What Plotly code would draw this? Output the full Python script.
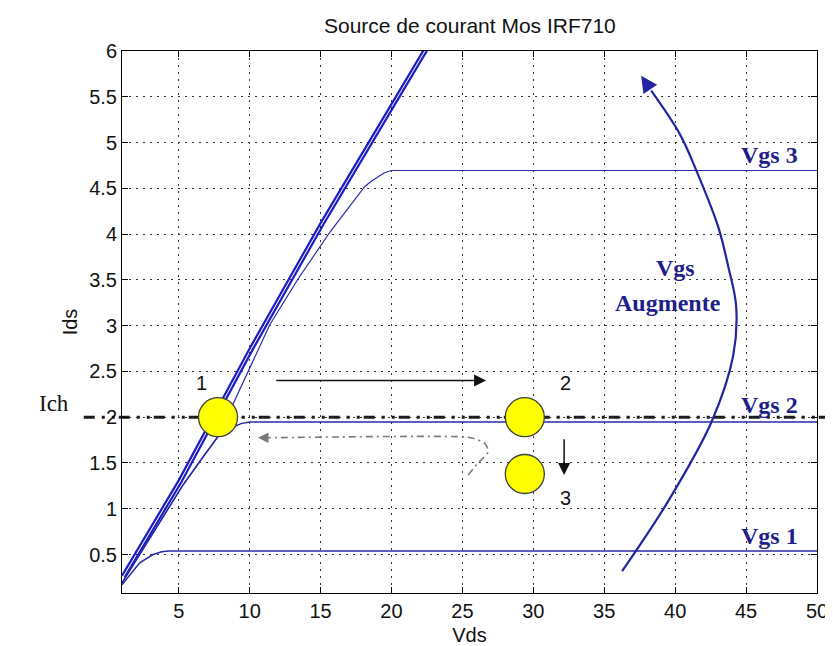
import plotly.graph_objects as go

# ---------------- data ----------------
# ohmic-region lines (double thick line)
ohm_x = [1.0, 5.0, 10.0, 15.0, 20.0, 22.3, 23.0]
ohm_y = [0.27, 1.31, 2.75, 4.12, 5.42, 6.02, 6.2]
ohm2_x = [1.18, 5.18, 10.18, 15.18, 20.18, 22.48, 23.18]
ohm2_y = [0.25, 1.29, 2.73, 4.10, 5.40, 6.00, 6.18]

# Vgs 3 characteristic
vgs3_x = [1.0, 5.30, 6.83, 7.77, 11.42, 13.41, 15.65, 18.12, 18.6, 19.05, 19.5, 19.99, 50.0]
vgs3_y = [0.19, 1.26, 1.59, 1.79, 3.01, 3.51, 4.02, 4.52, 4.58, 4.63, 4.67, 4.695, 4.695]

# Vgs 2 characteristic
vgs2_x = [1.0, 5.30, 6.83, 7.77, 8.6, 9.4, 10.0, 50.0]
vgs2_y = [0.19, 1.26, 1.59, 1.79, 1.88, 1.93, 1.948, 1.948]

# Vgs 1 characteristic
vgs1_x = [1.0, 1.5, 2.25, 3.19, 3.8, 4.3, 50.0]
vgs1_y = [0.17, 0.27, 0.41, 0.50, 0.53, 0.54, 0.54]

# load current level
ich_level = 2.0

# operating points 1, 2, 3
pt_x = [7.77, 29.4, 29.4]
pt_y = [2.0, 2.0, 1.38]
pt_labels = ["1", "2", "3"]
pt_label_x = [6.6, 32.3, 32.3]
pt_label_y = [2.37, 2.37, 1.12]

# big curved "Vgs augmente" arrow
vgsarrow_x = [36.26, 39.5, 42.56, 44.09, 44.3, 43.74, 43.03, 41.48, 40.33, 38.31]
vgsarrow_y = [0.319, 1.081, 1.948, 2.671, 3.213, 3.647, 4.081, 4.699, 5.092, 5.566]
vgsarrow_tip = (37.6, 5.73)

# dash-dot return path (3 -> 1)
ret_x = [25.4, 26.1, 26.8, 26.6, 25.75, 25.17, 10.9]
ret_y = [1.37, 1.50, 1.62, 1.71, 1.77, 1.785, 1.775]
ret_tip = (10.59, 1.775)

# straight arrows
right_arrow = ((11.77, 2.40), (26.67, 2.40))
down_arrow = ((32.17, 1.775), (32.17, 1.37))

# curve labels
curve_labels = ["Vgs 3", "Vgs 2", "Vgs 1"]
curve_label_x = [46.63, 46.63, 46.63]
curve_label_y = [4.86, 2.13, 0.70]

x_ticks = [5, 10, 15, 20, 25, 30, 35, 40, 45, 50]
y_ticks = [0.5, 1, 1.5, 2, 2.5, 3, 3.5, 4, 4.5, 5, 5.5, 6]
y_tick_text = ["0.5", "1", "1.5", "2", "2.5", "3", "3.5", "4", "4.5", "5", "5.5", "6"]

# ---------------- styles ----------------
BLUE_THICK = "#1c1cc4"
BLUE_THIN = "#2a2aa6"
NAVY_TEXT = "#1e1e8c"
SANS = "Liberation Sans, Arial, sans-serif"
SERIF = "Liberation Serif, Times New Roman, serif"

fig = go.Figure()

fig.add_trace(go.Scatter(x=ohm_x, y=ohm_y, mode="lines",
                         line=dict(color=BLUE_THICK, width=2.2), hoverinfo="skip"))
fig.add_trace(go.Scatter(x=ohm2_x, y=ohm2_y, mode="lines",
                         line=dict(color=BLUE_THICK, width=2.2), hoverinfo="skip"))
fig.add_trace(go.Scatter(x=vgs3_x, y=vgs3_y, mode="lines",
                         line=dict(color=BLUE_THIN, width=1.2), hoverinfo="skip"))
fig.add_trace(go.Scatter(x=vgs2_x, y=vgs2_y, mode="lines",
                         line=dict(color=BLUE_THIN, width=1.5), hoverinfo="skip"))
fig.add_trace(go.Scatter(x=vgs1_x, y=vgs1_y, mode="lines",
                         line=dict(color=BLUE_THIN, width=1.5), hoverinfo="skip"))

# return path
fig.add_trace(go.Scatter(x=ret_x, y=ret_y, mode="lines",
                         line=dict(color="#7a7a7a", width=1.6, dash="7px,4px,2px,4px", shape="spline",
                                   smoothing=0.8),
                         hoverinfo="skip"))

# Vgs arrow shaft
fig.add_trace(go.Scatter(x=vgsarrow_x, y=vgsarrow_y, mode="lines",
                         line=dict(color="#2424a0", width=2.2, shape="spline", smoothing=1.0),
                         hoverinfo="skip"))

# operating points
fig.add_trace(go.Scatter(x=pt_x, y=pt_y, mode="markers",
                         marker=dict(size=39, color="#ffff00", line=dict(color="#404040", width=1.3)),
                         hoverinfo="skip", cliponaxis=False))

annotations = []
for t, x, y in zip(pt_labels, pt_label_x, pt_label_y):
    annotations.append(dict(x=x, y=y, xref="x", yref="y", text=t, showarrow=False,
                            font=dict(family=SANS, size=20, color="#111")))
for t, x, y in zip(curve_labels, curve_label_x, curve_label_y):
    annotations.append(dict(x=x, y=y, xref="x", yref="y", text="<b>%s</b>" % t, showarrow=False,
                            font=dict(family=SERIF, size=24, color=NAVY_TEXT)))
annotations.append(dict(x=40.0, y=3.63, xref="x", yref="y", text="<b>Vgs</b>", showarrow=False,
                        font=dict(family=SERIF, size=24, color=NAVY_TEXT)))
annotations.append(dict(x=39.5, y=3.25, xref="x", yref="y", text="<b>Augmente</b>", showarrow=False,
                        font=dict(family=SERIF, size=24, color=NAVY_TEXT)))
annotations.append(dict(x=-0.123, y=0.35, xref="paper", yref="paper", text="Ich", showarrow=False,
                        font=dict(family=SERIF, size=23, color="#111")))

# arrows
annotations.append(dict(x=right_arrow[1][0], y=right_arrow[1][1], ax=right_arrow[0][0], ay=right_arrow[0][1],
                        xref="x", yref="y", axref="x", ayref="y", text="", showarrow=True,
                        arrowhead=2, arrowsize=1.6, arrowwidth=1.5, arrowcolor="#111", standoff=0))
annotations.append(dict(x=down_arrow[1][0], y=down_arrow[1][1], ax=down_arrow[0][0], ay=down_arrow[0][1],
                        xref="x", yref="y", axref="x", ayref="y", text="", showarrow=True,
                        arrowhead=2, arrowsize=1.6, arrowwidth=1.5, arrowcolor="#111", standoff=0))
annotations.append(dict(x=ret_tip[0], y=ret_tip[1], ax=ret_x[-1], ay=ret_y[-1],
                        xref="x", yref="y", axref="x", ayref="y", text="", showarrow=True,
                        arrowhead=2, arrowsize=1.5, arrowwidth=1.4, arrowcolor="#7a7a7a", standoff=0))
annotations.append(dict(x=vgsarrow_tip[0], y=vgsarrow_tip[1], ax=vgsarrow_x[-1], ay=vgsarrow_y[-1],
                        xref="x", yref="y", axref="x", ayref="y", text="", showarrow=True,
                        arrowhead=2, arrowsize=1.5, arrowwidth=2.2, arrowcolor="#2424a0", standoff=0))

shapes = [dict(type="line", xref="paper", yref="y", x0=-0.055, x1=1.023, y0=ich_level, y1=ich_level,
               line=dict(color="#1a1a1a", width=3, dash="11px,7px,3px,7px,3px,4px"), layer="below")]

axis_common = dict(showline=True, linecolor="black", linewidth=1, mirror="ticks",
                   ticks="inside", ticklen=6, tickcolor="black",
                   showgrid=True, gridcolor="#333333", gridwidth=1, griddash="1.5px,5.5px",
                   zeroline=False, tickfont=dict(family=SANS, size=20, color="#111"))

fig.update_layout(
    width=833, height=646,
    margin=dict(l=114, r=24, t=43, b=57),
    paper_bgcolor="white", plot_bgcolor="white",
    showlegend=False,
    title=dict(text="Source de courant Mos IRF710", x=0.5545, xanchor="center", y=0.972, yanchor="middle",
               font=dict(family=SANS, size=21, color="#111")),
    xaxis=dict(range=[1, 50], tickvals=x_ticks, ticktext=[str(v) for v in x_ticks],
               title=dict(text="Vds", font=dict(family=SANS, size=20, color="#111"), standoff=6),
               **axis_common),
    yaxis=dict(range=[0.08, 6], tickvals=y_ticks, ticktext=y_tick_text,
               title=dict(text="Ids", font=dict(family=SANS, size=20, color="#111"), standoff=6),
               **axis_common),
    annotations=annotations,
    shapes=shapes,
)

fig.write_html("out.html")
